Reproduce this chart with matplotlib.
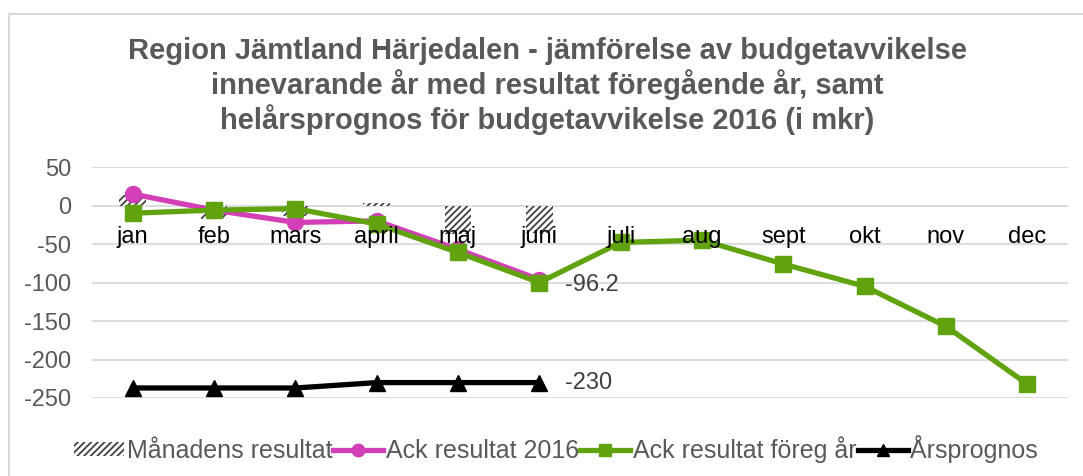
import numpy as np
import matplotlib
matplotlib.use('Agg')
import matplotlib.pyplot as plt
import matplotlib.transforms as mtransforms
from matplotlib.lines import Line2D

plt.rcParams['font.family'] = ['Liberation Sans', 'DejaVu Sans']
plt.rcParams['axes.unicode_minus'] = False
plt.rcParams['hatch.color'] = '#404040'
plt.rcParams['hatch.linewidth'] = 1.3

months = ['jan', 'feb', 'mars', 'april', 'maj', 'juni', 'juli', 'aug', 'sept', 'okt', 'nov', 'dec']
monthly = [13, -17, -14, 3, -37, -36]
ack_2016 = [15, -6, -22, -20, -57, -96.2]
ack_prev = [-10, -6, -4, -24, -61, -100, -48, -45, -76, -105, -157, -232]
prognos = [-237, -237, -237, -230, -230, -230]
yticks = [50, 0, -50, -100, -150, -200, -250]

title = ('Region Jämtland Härjedalen - jämförelse av budgetavvikelse\n'
         'innevarande år med resultat föregående år, samt\n'
         'helårsprognos för budgetavvikelse 2016 (i mkr)')

magenta = '#d23fb7'
green = '#60a30e'

fig = plt.figure(figsize=(10.83, 4.76), dpi=100)
ax = fig.add_axes([92 / 1083, 1 - 398 / 476, (1068 - 92) / 1083, (398 - 167) / 476])

x = np.arange(len(months))
ax.bar(x[:len(monthly)], monthly, width=0.33, color='white', edgecolor='#404040', lw=0,
       hatch='/////', zorder=2)
ax.plot(x[:len(ack_2016)], ack_2016, color=magenta, lw=3.8, marker='o', ms=11.5, zorder=3)
ax.plot(x, ack_prev, color=green, lw=3.8, marker='s', ms=11.5, zorder=4)
ax.plot(x[:len(prognos)], prognos, color='black', lw=3.8, marker='^', ms=12, zorder=4)

ax.annotate(f'{ack_2016[-1]:.1f}', (x[len(ack_2016) - 1], ack_2016[-1]), xytext=(26, -5),
            textcoords='offset pixels', va='center', ha='left', fontsize=17, color='#404040')
ax.annotate(f'{prognos[-1]}', (x[len(prognos) - 1], prognos[-1]), xytext=(26, 0),
            textcoords='offset pixels', va='center', ha='left', fontsize=17, color='#404040')

# category labels sit just under the zero line
off = mtransforms.offset_copy(ax.transData, fig=fig, x=0, y=-37, units='dots')
for i, m in enumerate(months):
    ax.text(i, 0, m, transform=off, ha='center', va='baseline', fontsize=17, color='black',
            zorder=5)

ax.set_xlim(-0.5, len(months) - 0.5)
ax.set_ylim(-250, 50)
ax.set_yticks(yticks)
ax.set_xticks([])
ax.tick_params(axis='y', length=0, labelsize=17, labelcolor='#595959', pad=15)
ax.grid(axis='y', color='#d9d9d9', lw=1.3, zorder=0)
ax.set_axisbelow(True)
for s in ax.spines.values():
    s.set_visible(False)

fig.text(547 / 1083, 1 - 86 / 476, title, ha='center', va='center', fontsize=21,
         fontweight='bold', color='#595959', linespacing=1.17)

handles = [
    plt.Rectangle((0, 0), 1, 1, facecolor='white', edgecolor='#404040', lw=0, hatch='/////'),
    Line2D([], [], color=magenta, lw=3.8, marker='o', ms=9),
    Line2D([], [], color=green, lw=3.8, marker='s', ms=9),
    Line2D([], [], color='black', lw=3.8, marker='^', ms=9),
]
labels = ['Månadens resultat', 'Ack resultat 2016', 'Ack resultat föreg år', 'Årsprognos']
leg = fig.legend(handles, labels, loc='center', bbox_to_anchor=(556 / 1083, 1 - 449 / 476),
                 ncol=4, frameon=False, fontsize=18, handlelength=2.0, handleheight=0.5,
                 handletextpad=0.1, columnspacing=0.05, labelcolor='#595959')

# chart border (left and top edge)
fig.add_artist(Line2D([9 / 1083, 9 / 1083], [0, 1 - 14 / 476], transform=fig.transFigure,
                      color='#d9d9d9', lw=1.5))
fig.add_artist(Line2D([9 / 1083, 1], [1 - 14 / 476, 1 - 14 / 476], transform=fig.transFigure,
                      color='#d9d9d9', lw=1.5))

fig.savefig('out.png', dpi=100)
